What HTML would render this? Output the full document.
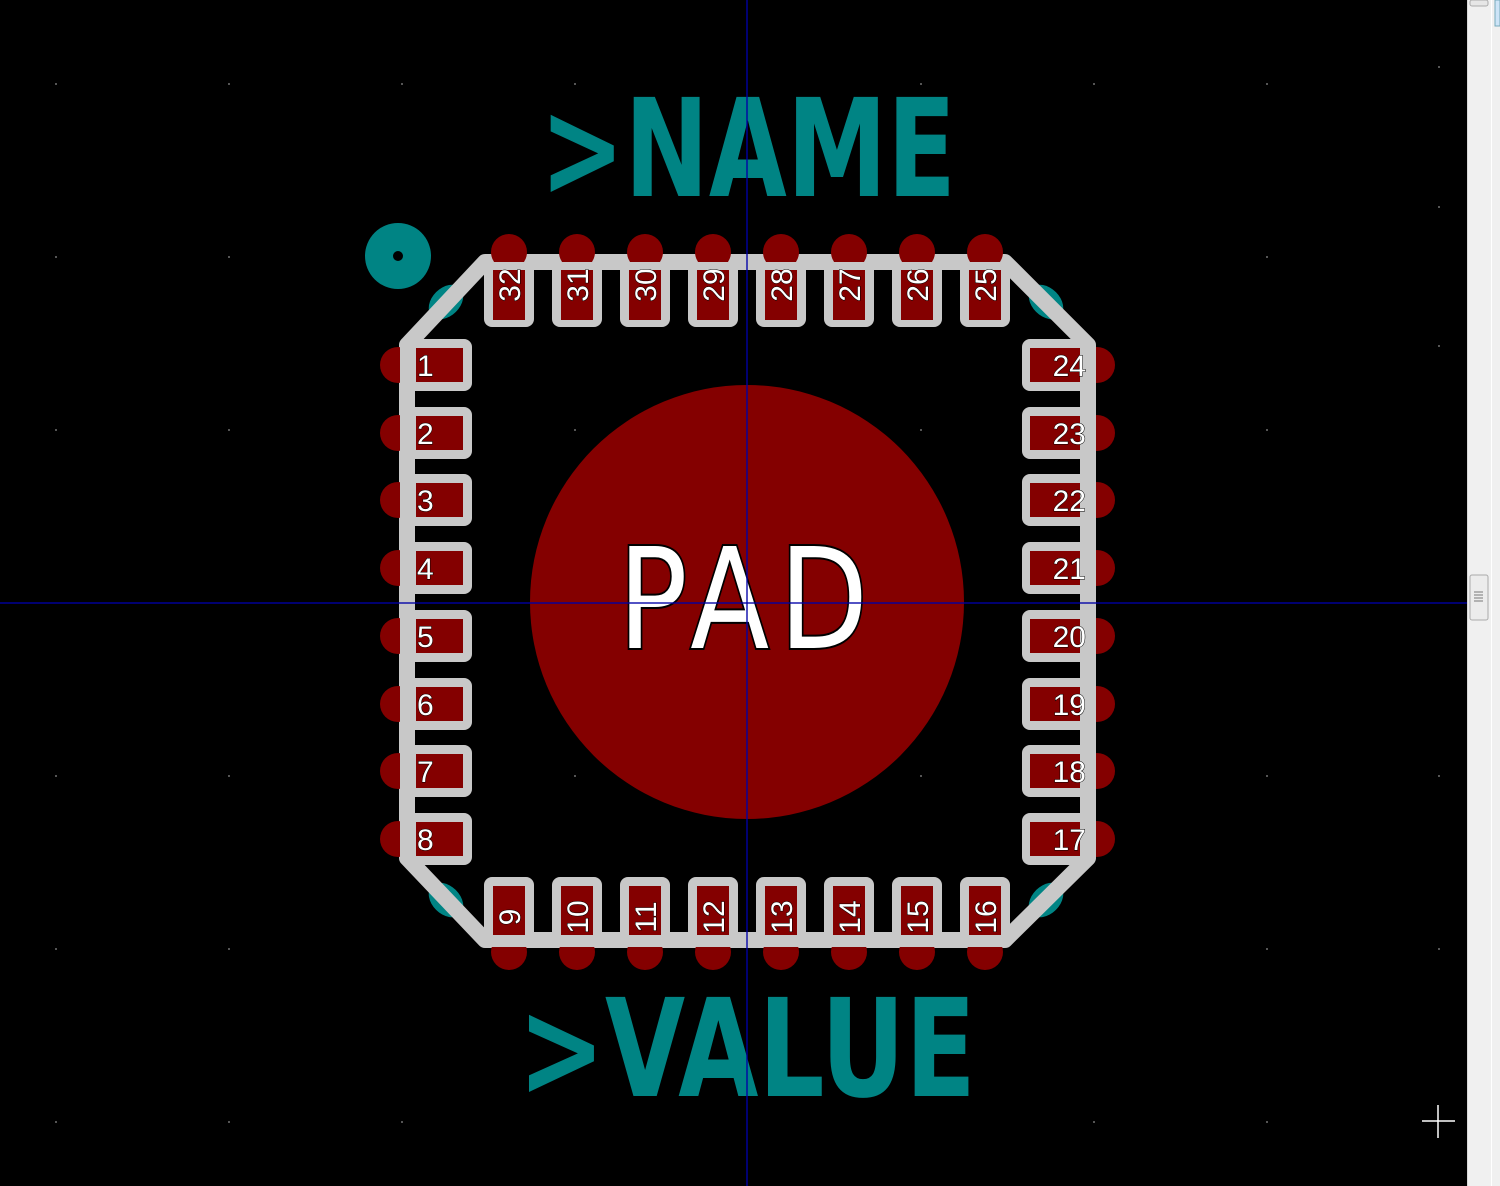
<!DOCTYPE html>
<html><head><meta charset="utf-8"><style>
html,body{margin:0;padding:0;background:#000;}
svg{display:block}
</style></head><body>
<svg width="1500" height="1186" viewBox="0 0 1500 1186" xmlns="http://www.w3.org/2000/svg">
<defs>
<g id="tp"><circle cx="0" cy="252" r="18" fill="#840000"/><rect x="-25" y="262" width="50" height="65" rx="8" fill="#c8c8c8"/><rect x="-16" y="270" width="32" height="50" fill="#840000"/></g>
<g id="bp"><circle cx="0" cy="952" r="18" fill="#840000"/><rect x="-25" y="877" width="50" height="70" rx="8" fill="#c8c8c8"/><rect x="-16" y="886" width="32" height="49" fill="#840000"/></g>
<g id="lp"><circle cx="398" cy="0" r="18" fill="#840000"/><rect x="400" y="-26" width="72" height="52" rx="8" fill="#c8c8c8"/><rect x="416" y="-17" width="47" height="34" fill="#840000"/></g>
<g id="rp"><circle cx="1097" cy="0" r="18" fill="#840000"/><rect x="1022" y="-26" width="74" height="52" rx="8" fill="#c8c8c8"/><rect x="1030" y="-17" width="50" height="34" fill="#840000"/></g>
</defs>
<rect width="1500" height="1186" fill="#000"/>
<g fill="#555">
<rect x="55" y="83" width="2" height="2"/><rect x="228" y="83" width="2" height="2"/><rect x="401" y="83" width="2" height="2"/><rect x="1093" y="83" width="2" height="2"/><rect x="1266" y="83" width="2" height="2"/><rect x="1438" y="66" width="2" height="2"/>
<rect x="55" y="256" width="2" height="2"/><rect x="228" y="256" width="2" height="2"/><rect x="1266" y="256" width="2" height="2"/><rect x="1438" y="206" width="2" height="2"/>
<rect x="55" y="429" width="2" height="2"/><rect x="228" y="429" width="2" height="2"/><rect x="1266" y="429" width="2" height="2"/><rect x="1438" y="345" width="2" height="2"/>
<rect x="55" y="775" width="2" height="2"/><rect x="228" y="775" width="2" height="2"/><rect x="1266" y="775" width="2" height="2"/><rect x="1438" y="775" width="2" height="2"/>
<rect x="55" y="948" width="2" height="2"/><rect x="228" y="948" width="2" height="2"/><rect x="1266" y="948" width="2" height="2"/><rect x="1438" y="948" width="2" height="2"/>
<rect x="574" y="775" width="2" height="2"/><rect x="920" y="775" width="2" height="2"/><rect x="574" y="429" width="2" height="2"/><rect x="920" y="429" width="2" height="2"/>
<rect x="574" y="83" width="2" height="2"/><rect x="920" y="83" width="2" height="2"/><rect x="228" y="1121" width="2" height="2"/><rect x="55" y="1121" width="2" height="2"/><rect x="1266" y="1121" width="2" height="2"/><rect x="401" y="1121" width="2" height="2"/><rect x="1093" y="1121" width="2" height="2"/>
</g>
<!-- teal corner marks -->
<g fill="#008484">
<ellipse cx="446" cy="302" rx="20" ry="14" transform="rotate(-45 446 302)"/>
<ellipse cx="1046" cy="302" rx="20" ry="14" transform="rotate(45 1046 302)"/>
<ellipse cx="446" cy="900" rx="20" ry="14" transform="rotate(45 446 900)"/>
<ellipse cx="1046" cy="900" rx="20" ry="14" transform="rotate(-45 1046 900)"/>
<circle cx="398" cy="256" r="33"/>
</g>
<circle cx="398" cy="256" r="5" fill="#000"/>
<circle cx="747" cy="602" r="217" fill="#840000"/>
<polygon points="485,262 1005,262 1088,345 1088,858 1005,940 485,940 407,858 407,345" fill="none" stroke="#c8c8c8" stroke-width="16" stroke-linejoin="round"/>
<use href="#tp" x="509"/><use href="#tp" x="577"/><use href="#tp" x="645"/><use href="#tp" x="713"/><use href="#tp" x="781"/><use href="#tp" x="849"/><use href="#tp" x="917"/><use href="#tp" x="985"/>
<use href="#bp" x="509"/><use href="#bp" x="577"/><use href="#bp" x="645"/><use href="#bp" x="713"/><use href="#bp" x="781"/><use href="#bp" x="849"/><use href="#bp" x="917"/><use href="#bp" x="985"/>
<use href="#lp" y="365"/><use href="#lp" y="433"/><use href="#lp" y="500"/><use href="#lp" y="568"/><use href="#lp" y="636"/><use href="#lp" y="704"/><use href="#lp" y="771"/><use href="#lp" y="839"/>
<use href="#rp" y="365"/><use href="#rp" y="433"/><use href="#rp" y="500"/><use href="#rp" y="568"/><use href="#rp" y="636"/><use href="#rp" y="704"/><use href="#rp" y="771"/><use href="#rp" y="839"/>
<g font-family="'Liberation Sans','DejaVu Sans',sans-serif" font-size="30" fill="#fff" stroke="#000" stroke-width="1" paint-order="stroke">
<text x="417" y="376">1</text><text x="417" y="444">2</text><text x="417" y="511">3</text><text x="417" y="579">4</text><text x="417" y="647">5</text><text x="417" y="715">6</text><text x="417" y="782">7</text><text x="417" y="850">8</text>
<g text-anchor="end"><text x="1086" y="376">24</text><text x="1086" y="444">23</text><text x="1086" y="511">22</text><text x="1086" y="579">21</text><text x="1086" y="647">20</text><text x="1086" y="715">19</text><text x="1086" y="782">18</text><text x="1086" y="850">17</text></g>
<g text-anchor="middle">
<text transform="translate(520,285) rotate(-90)">32</text><text transform="translate(588,285) rotate(-90)">31</text><text transform="translate(656,285) rotate(-90)">30</text><text transform="translate(724,285) rotate(-90)">29</text><text transform="translate(792,285) rotate(-90)">28</text><text transform="translate(860,285) rotate(-90)">27</text><text transform="translate(928,285) rotate(-90)">26</text><text transform="translate(996,285) rotate(-90)">25</text>
<text transform="translate(520,917) rotate(-90)">9</text><text transform="translate(588,917) rotate(-90)">10</text><text transform="translate(656,917) rotate(-90)">11</text><text transform="translate(724,917) rotate(-90)">12</text><text transform="translate(792,917) rotate(-90)">13</text><text transform="translate(860,917) rotate(-90)">14</text><text transform="translate(928,917) rotate(-90)">15</text><text transform="translate(996,917) rotate(-90)">16</text>
</g>
</g>
<text x="748" y="648" text-anchor="middle" font-family="'DejaVu Sans','Liberation Sans',sans-serif" font-size="140" font-weight="normal" fill="#fff" stroke="#000" stroke-width="4" paint-order="stroke" letter-spacing="12" textLength="260" lengthAdjust="spacingAndGlyphs">PAD</text>
<g font-family="'DejaVu Sans','Liberation Sans',sans-serif" font-weight="bold" fill="#008484">
<text x="540" y="196" font-size="136" textLength="416" lengthAdjust="spacingAndGlyphs">&gt;NAME</text>
<text x="518" y="1096" font-size="136" textLength="458" lengthAdjust="spacingAndGlyphs">&gt;VALUE</text>
</g>
<line x1="747" y1="0" x2="747" y2="1186" stroke="#0000a8" stroke-width="1.5" opacity="0.9"/>
<line x1="0" y1="603" x2="1467" y2="603" stroke="#0000a8" stroke-width="1.5" opacity="0.9"/>
<g stroke="#fff" stroke-width="1.5"><line x1="1422" y1="1121" x2="1455" y2="1121"/><line x1="1438" y1="1105" x2="1438" y2="1138"/></g>
<rect x="1467" y="0" width="33" height="1186" fill="#f0f0f0"/>
<line x1="1467.5" y1="0" x2="1467.5" y2="1186" stroke="#d8d8d8"/>
<line x1="1491.5" y1="0" x2="1491.5" y2="1186" stroke="#fff"/>
<rect x="1470" y="0" width="18" height="6" rx="2" fill="#e6e6e6" stroke="#aaa"/>
<rect x="1495" y="0" width="5" height="26" fill="#cde4f7" stroke="#7ab"/>
<rect x="1470" y="575" width="18" height="45" rx="2" fill="#ececec" stroke="#aaa"/>
<g stroke="#777"><line x1="1474" y1="592" x2="1483" y2="592"/><line x1="1474" y1="595" x2="1483" y2="595"/><line x1="1474" y1="598" x2="1483" y2="598"/><line x1="1474" y1="601" x2="1483" y2="601"/></g>
</svg>
</body></html>
